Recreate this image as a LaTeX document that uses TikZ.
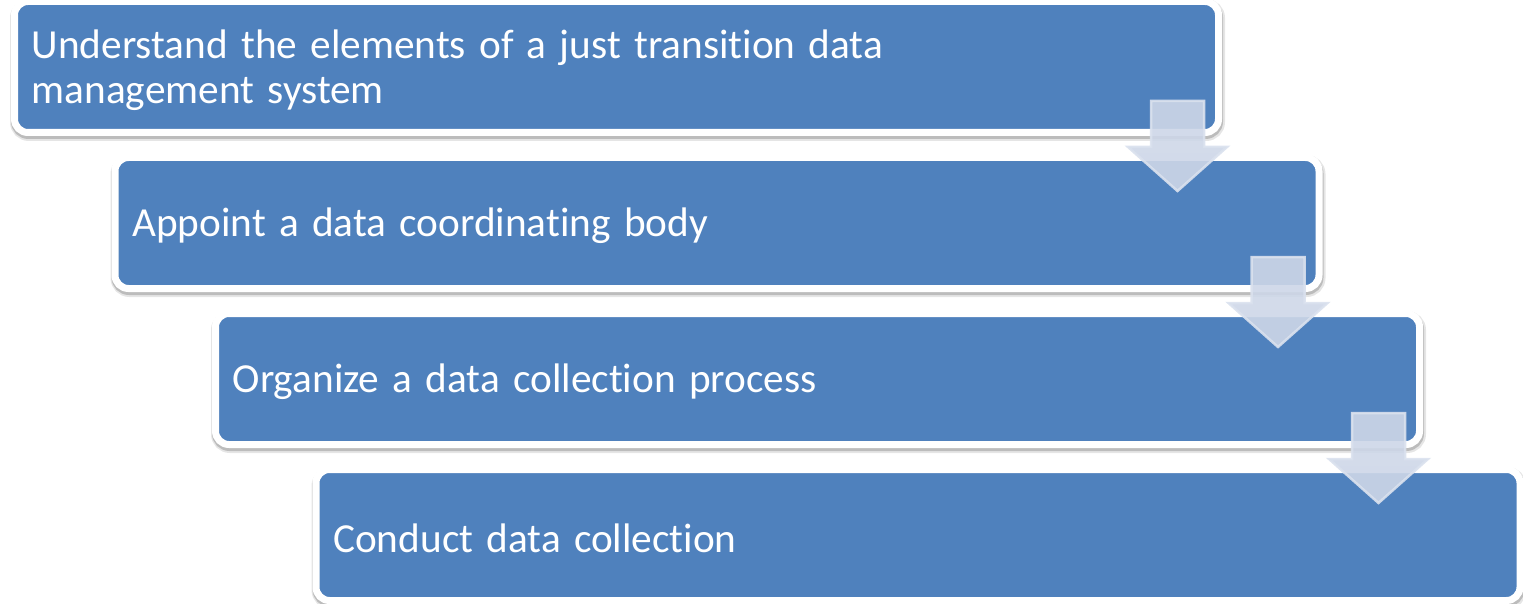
\documentclass[tikz,border=0pt]{standalone}
\usepackage{fontspec}
\setmainfont{Carlito}[Ligatures={NoCommon}, WordSpace=1.42]
\usetikzlibrary{calc}
\definecolor{stepblue}{RGB}{79,129,189}
\definecolor{arrowfill}{RGB}{206,215,232}
\definecolor{arrowedge}{RGB}{218,225,238}
\begin{document}
\begin{tikzpicture}[x=1pt,y=-1pt,
  stepbox/.style={rectangle, rounded corners=13.5pt, fill=stepblue,
    draw=white, line width=7pt, outer sep=0pt,
    minimum width=1204pt, minimum height=131pt, anchor=north west,
    preaction={draw=black, draw opacity=0.10, line width=11pt,
      transform canvas={shift={(1pt,-3pt)}}},
    preaction={draw=black, draw opacity=0.18, line width=8pt,
      transform canvas={shift={(0.5pt,-2.5pt)}}}},
  steptext/.style={anchor=west, inner sep=0pt, align=left, text=white,
    font=\fontsize{41.3}{44.5}\selectfont},
  downarrow/.style={fill=arrowfill, fill opacity=0.9,
    draw=arrowedge, draw opacity=0.9, line width=2.5pt, line join=miter}]
\useasboundingbox (0,0) rectangle (1523,604);

% the four steps, each shifted right and down from the one before
\node[stepbox] (b1) at (14.5,1.5) {};
\node[stepbox] (b2) at (115,157.5) {};
\node[stepbox] (b3) at (215.5,313.5) {};
\node[stepbox] (b4) at (316,469.5) {};

% step captions
\node[steptext] (t1) at ([shift={(17,3)}]b1.west)
  {Understand the elements of a just transition data\\management system};
\node[steptext] (t2) at ([shift={(17,3)}]b2.west) {Appoint a data coordinating body};
\node[steptext] (t3) at ([shift={(17,3)}]b3.west) {Organize a data collection process};
\node[steptext] (t4) at ([shift={(17,3)}]b4.west) {Conduct data collection};

% block arrows linking each step to the next
\foreach \a in {b1,b2,b3}{
  \draw[downarrow] ([shift={(-67.5,-31.5)}]\a.south east)
    -- ++(53,0) -- ++(0,46) -- ++(23,0) -- ++(-49.5,44)
    -- ++(-49.5,-44) -- ++(23,0) -- cycle;
}
\end{tikzpicture}
\end{document}
